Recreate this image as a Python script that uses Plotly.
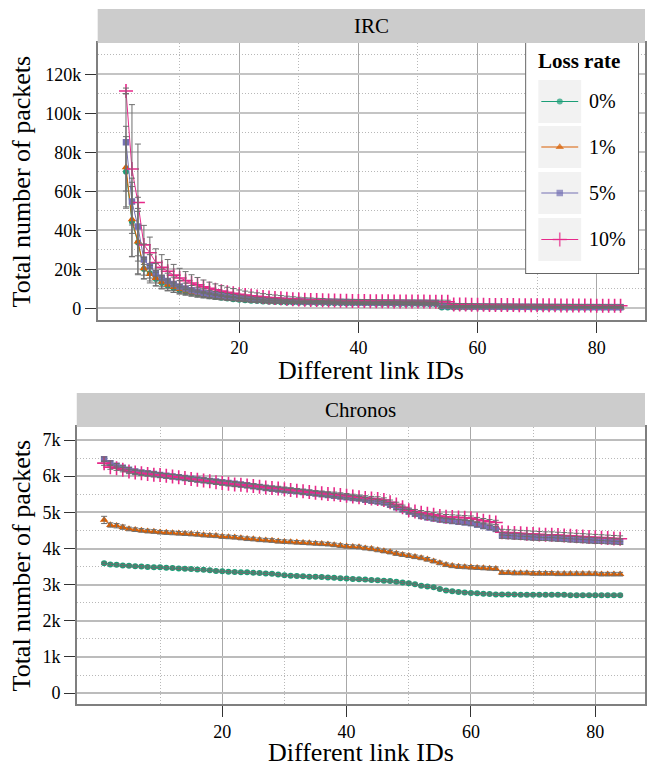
import plotly.graph_objects as go

W, H = 647, 766

# ---------------- data ----------------
link_ids = list(range(1, 85))
loss_rates = ["0%", "1%", "5%", "10%"]
colors = ["#1B9E77", "#D95F02", "#7570B3", "#E7298A"]
symbols = ["circle", "triangle-up", "square", "cross-thin"]

# IRC: total number of packets (thousands)
irc_0 = [70.0, 44.4, 33.7, 20.2, 18.0, 15.0, 13.0, 11.5, 10.3, 9.3, 8.5, 7.8, 7.2, 6.7, 6.2, 5.8, 5.4, 5.0, 4.7, 4.4,
         4.1, 3.9, 3.7, 3.5, 3.3, 3.2, 3.1, 3.0, 2.95, 2.9, 2.85, 2.8, 2.75, 2.7, 2.65, 2.6, 2.55, 2.5, 2.5, 2.45,
         2.4, 2.4, 2.35, 2.3, 2.3, 2.25, 2.25, 2.2, 2.2, 2.15, 2.15, 2.1, 2.1, 0.45, 0.45, 0.42, 0.42, 0.4, 0.4, 0.4,
         0.38, 0.38, 0.38, 0.36, 0.36, 0.36, 0.35, 0.35, 0.35, 0.34, 0.34, 0.33, 0.33, 0.33, 0.32, 0.32, 0.32, 0.31,
         0.31, 0.31, 0.3, 0.3, 0.3, 0.3]
irc_1 = [72.3, 45.6, 34.2, 20.5, 17.5, 15.5, 13.5, 12.0, 10.8, 9.8, 9.0, 8.2, 7.6, 7.0, 6.5, 6.1, 5.7, 5.3, 5.0, 4.7,
         4.4, 4.2, 4.0, 3.8, 3.6, 3.5, 3.4, 3.3, 3.2, 3.15, 3.1, 3.05, 3.0, 2.95, 2.9, 2.85, 2.8, 2.75, 2.7, 2.7,
         2.65, 2.6, 2.6, 2.55, 2.5, 2.5, 2.45, 2.45, 2.4, 2.4, 2.35, 2.35, 2.3, 0.55, 0.55, 0.52, 0.5, 0.5, 0.48, 0.48,
         0.46, 0.46, 0.45, 0.45, 0.44, 0.44, 0.43, 0.43, 0.42, 0.42, 0.41, 0.41, 0.4, 0.4, 0.4, 0.39, 0.39, 0.38,
         0.38, 0.38, 0.37, 0.37, 0.36, 0.36]
irc_5 = [85.1, 54.7, 41.9, 25.0, 21.5, 18.0, 15.5, 14.0, 12.5, 11.2, 10.2, 9.3, 8.6, 8.0, 7.4, 6.9, 6.5, 6.1, 5.7, 5.4,
         5.1, 4.8, 4.6, 4.4, 4.2, 4.05, 3.9, 3.8, 3.7, 3.6, 3.5, 3.45, 3.4, 3.35, 3.3, 3.25, 3.2, 3.15, 3.1, 3.05,
         3.0, 3.0, 2.95, 2.9, 2.9, 2.85, 2.85, 2.8, 2.8, 2.75, 2.75, 2.7, 2.7, 1.2, 1.15, 1.1, 1.05, 1.0, 0.98, 0.95,
         0.92, 0.9, 0.88, 0.86, 0.84, 0.82, 0.8, 0.78, 0.76, 0.75, 0.74, 0.72, 0.71, 0.7, 0.69, 0.68, 0.67, 0.66,
         0.65, 0.64, 0.63, 0.62, 0.61, 0.6]
irc_10 = [111.4, 71.4, 54.2, 32.5, 28.5, 23.5, 21.0, 19.0, 17.0, 15.5, 14.2, 13.0, 12.0, 11.0, 10.2, 9.5, 8.8, 8.2, 7.7,
          7.2, 6.8, 6.4, 6.1, 5.8, 5.5, 5.3, 5.1, 4.9, 4.7, 4.55, 4.4, 4.3, 4.2, 4.1, 4.0, 3.95, 3.9, 3.85, 3.8, 3.75,
          3.7, 3.65, 3.6, 3.58, 3.55, 3.52, 3.5, 3.48, 3.46, 3.44, 3.42, 3.4, 3.38, 3.36, 3.34, 2.0, 1.95, 1.9, 1.85,
          1.8, 1.78, 1.75, 1.72, 1.7, 1.68, 1.65, 1.62, 1.6, 1.58, 1.56, 1.54, 1.52, 1.5, 1.48, 1.46, 1.44, 1.42, 1.4,
          1.38, 1.36, 1.34, 1.32, 1.3, 1.28]

irc_err_0 = [18, 18, 16, 5, 4, 3.5, 3, 2.5, 2.2, 2.0, 1.8, 1.6, 1.5, 1.4, 1.3, 1.2, 1.1, 1.0, 0.9, 0.9,
             0.8, 0.8, 0.7, 0.7, 0.6, 0.6, 0.6, 0.55, 0.55, 0.5, 0.5, 0.5, 0.5, 0.5, 0.5, 0.5, 0.5, 0.5, 0.5, 0.5,
             0.5, 0.5, 0.5, 0.5, 0.5, 0.5, 0.5, 0.5, 0.5, 0.5, 0.5, 0.5, 0.5, 0.2, 0.2, 0.2, 0.2, 0.2, 0.2, 0.2,
             0.2, 0.2, 0.2, 0.2, 0.2, 0.2, 0.2, 0.2, 0.2, 0.2, 0.2, 0.2, 0.2, 0.2, 0.2, 0.2, 0.2, 0.2, 0.2, 0.2,
             0.2, 0.2, 0.2, 0.2]
irc_err_1 = [21, 19, 17, 5.5, 4.5, 4, 3.5, 3, 2.6, 2.3, 2.0, 1.8, 1.7, 1.5, 1.4, 1.3, 1.2, 1.1, 1.0, 1.0,
             0.9, 0.9, 0.8, 0.8, 0.7, 0.7, 0.65, 0.6, 0.6, 0.55, 0.55, 0.5, 0.5, 0.5, 0.5, 0.5, 0.5, 0.5, 0.5, 0.5,
             0.5, 0.5, 0.5, 0.5, 0.5, 0.5, 0.5, 0.5, 0.5, 0.5, 0.5, 0.5, 0.5, 0.25, 0.25, 0.25, 0.25, 0.25, 0.25, 0.25,
             0.25, 0.25, 0.25, 0.25, 0.25, 0.25, 0.25, 0.25, 0.25, 0.25, 0.25, 0.25, 0.25, 0.25, 0.25, 0.25, 0.25,
             0.25, 0.25, 0.25, 0.25, 0.25, 0.25, 0.25]
irc_err_5 = [25, 12, 15, 8, 6, 5, 4.5, 4, 3.5, 3.0, 2.7, 2.4, 2.2, 2.0, 1.8, 1.7, 1.6, 1.5, 1.4, 1.3,
             1.2, 1.1, 1.0, 1.0, 0.9, 0.85, 0.8, 0.75, 0.7, 0.7, 0.65, 0.65, 0.6, 0.6, 0.6, 0.6, 0.6, 0.6, 0.6, 0.6,
             0.6, 0.6, 0.6, 0.6, 0.6, 0.6, 0.6, 0.6, 0.6, 0.6, 0.6, 0.6, 0.6, 0.35, 0.35, 0.35, 0.35, 0.35, 0.35, 0.35,
             0.35, 0.35, 0.35, 0.35, 0.35, 0.35, 0.35, 0.35, 0.35, 0.35, 0.35, 0.35, 0.35, 0.35, 0.35, 0.35, 0.35,
             0.35, 0.35, 0.35, 0.35, 0.35, 0.35, 0.35]
irc_err_10 = [1.5, 33, 30, 10, 8, 7, 6.5, 6, 5.5, 5, 4.6, 4.2, 3.8, 3.5, 3.2, 3.0, 2.8, 2.6, 2.4, 2.2,
              2.0, 1.9, 1.8, 1.7, 1.6, 1.5, 1.4, 1.3, 1.2, 1.1, 1.0, 1.0, 0.9, 0.9, 0.8, 0.8, 0.8, 0.8, 0.8, 0.8,
              0.8, 0.8, 0.8, 0.8, 0.8, 0.8, 0.8, 0.8, 0.8, 0.8, 0.8, 0.8, 0.8, 0.8, 0.8, 0.5, 0.5, 0.5, 0.5, 0.5,
              0.5, 0.5, 0.5, 0.5, 0.5, 0.5, 0.5, 0.5, 0.5, 0.5, 0.5, 0.5, 0.5, 0.5, 0.5, 0.5, 0.5, 0.5, 0.5, 0.5,
              0.5, 0.5, 0.5, 0.5]

# Chronos: total number of packets (thousands)
chr_0 = [3.59, 3.56, 3.55, 3.53, 3.52, 3.51, 3.50, 3.49, 3.48, 3.48, 3.47, 3.46, 3.45, 3.44, 3.43, 3.42, 3.41, 3.40,
         3.38, 3.37, 3.36, 3.35, 3.34, 3.34, 3.33, 3.32, 3.31, 3.30, 3.28, 3.26, 3.25, 3.24, 3.23, 3.22, 3.22, 3.21,
         3.20, 3.19, 3.18, 3.17, 3.16, 3.15, 3.14, 3.13, 3.12, 3.11, 3.10, 3.08, 3.06, 3.04, 3.01, 2.97, 2.95, 2.93,
         2.88, 2.84, 2.82, 2.80, 2.78, 2.77, 2.76, 2.75, 2.74, 2.73, 2.73, 2.73, 2.73, 2.72, 2.72, 2.72, 2.72, 2.72,
         2.72, 2.72, 2.72, 2.71, 2.71, 2.71, 2.71, 2.71, 2.71, 2.71, 2.71, 2.71]
chr_1 = [4.79, 4.65, 4.63, 4.59, 4.54, 4.52, 4.50, 4.48, 4.47, 4.45, 4.44, 4.43, 4.42, 4.41, 4.40, 4.39, 4.37, 4.36,
         4.35, 4.33, 4.32, 4.31, 4.29, 4.27, 4.26, 4.24, 4.23, 4.22, 4.20, 4.19, 4.18, 4.17, 4.16, 4.15, 4.14, 4.13,
         4.12, 4.10, 4.08, 4.06, 4.05, 4.04, 4.01, 3.99, 3.96, 3.93, 3.90, 3.86, 3.83, 3.80, 3.77, 3.74, 3.70, 3.65,
         3.60, 3.55, 3.52, 3.50, 3.49, 3.48, 3.47, 3.46, 3.45, 3.44, 3.33, 3.33, 3.32, 3.32, 3.32, 3.31, 3.31, 3.31,
         3.31, 3.30, 3.30, 3.30, 3.30, 3.30, 3.30, 3.30, 3.29, 3.29, 3.29, 3.29]
chr_5 = [6.47, 6.36, 6.29, 6.23, 6.18, 6.13, 6.10, 6.08, 6.06, 6.03, 6.01, 5.99, 5.97, 5.95, 5.93, 5.91, 5.89, 5.87,
         5.85, 5.83, 5.81, 5.79, 5.77, 5.75, 5.72, 5.70, 5.67, 5.65, 5.63, 5.61, 5.60, 5.58, 5.56, 5.54, 5.52, 5.50,
         5.48, 5.46, 5.44, 5.42, 5.40, 5.38, 5.35, 5.32, 5.30, 5.27, 5.21, 5.14, 5.08, 5.02, 4.96, 4.90, 4.86, 4.83,
         4.80, 4.78, 4.76, 4.74, 4.72, 4.70, 4.66, 4.62, 4.58, 4.54, 4.36, 4.35, 4.34, 4.33, 4.32, 4.31, 4.30, 4.30,
         4.29, 4.28, 4.27, 4.26, 4.25, 4.24, 4.23, 4.22, 4.22, 4.21, 4.20, 4.19]
chr_10 = [6.36, 6.25, 6.22, 6.18, 6.13, 6.10, 6.08, 6.06, 6.04, 6.03, 6.01, 5.99, 5.97, 5.95, 5.92, 5.90, 5.88, 5.86,
          5.83, 5.81, 5.79, 5.77, 5.76, 5.74, 5.73, 5.71, 5.69, 5.67, 5.66, 5.64, 5.62, 5.60, 5.58, 5.56, 5.54, 5.53,
          5.51, 5.50, 5.48, 5.46, 5.44, 5.42, 5.40, 5.38, 5.37, 5.34, 5.28, 5.22, 5.14, 5.06, 5.02, 4.99, 4.96, 4.93,
          4.90, 4.88, 4.87, 4.86, 4.85, 4.84, 4.80, 4.77, 4.74, 4.72, 4.45, 4.44, 4.43, 4.42, 4.41, 4.40, 4.39, 4.38,
          4.38, 4.37, 4.36, 4.35, 4.34, 4.33, 4.32, 4.31, 4.30, 4.29, 4.28, 4.27]

chr_err_0 = [0.03, 0.03, 0.03, 0.03, 0.03, 0.03, 0.03, 0.03, 0.03, 0.03, 0.03, 0.03, 0.03, 0.03, 0.03, 0.03, 0.03,
             0.03, 0.03, 0.03, 0.03, 0.03, 0.03, 0.03, 0.03, 0.03, 0.03, 0.03, 0.03, 0.03, 0.03, 0.03, 0.03, 0.03,
             0.03, 0.03, 0.03, 0.03, 0.03, 0.03, 0.03, 0.03, 0.03, 0.03, 0.03, 0.03, 0.03, 0.03, 0.03, 0.03, 0.03,
             0.03, 0.03, 0.03, 0.03, 0.03, 0.03, 0.03, 0.03, 0.03, 0.03, 0.03, 0.03, 0.03, 0.03, 0.03, 0.03, 0.03,
             0.03, 0.03, 0.03, 0.03, 0.03, 0.03, 0.03, 0.03, 0.03, 0.03, 0.03, 0.03, 0.03, 0.03, 0.03, 0.03]
chr_err_1 = [0.10, 0.06, 0.06, 0.06, 0.05, 0.05, 0.05, 0.05, 0.05, 0.05, 0.05, 0.05, 0.05, 0.05, 0.05, 0.05, 0.05,
             0.05, 0.05, 0.05, 0.05, 0.05, 0.05, 0.05, 0.05, 0.05, 0.05, 0.05, 0.05, 0.05, 0.05, 0.05, 0.05, 0.05,
             0.05, 0.05, 0.05, 0.05, 0.05, 0.05, 0.05, 0.05, 0.05, 0.05, 0.05, 0.05, 0.05, 0.05, 0.05, 0.05, 0.05,
             0.05, 0.05, 0.05, 0.05, 0.05, 0.05, 0.05, 0.05, 0.05, 0.05, 0.05, 0.05, 0.05, 0.05, 0.05, 0.05, 0.05,
             0.05, 0.05, 0.05, 0.05, 0.05, 0.05, 0.05, 0.05, 0.05, 0.05, 0.05, 0.05, 0.05, 0.05, 0.05, 0.05]
chr_err_5 = [0.06, 0.06, 0.06, 0.06, 0.06, 0.06, 0.06, 0.06, 0.06, 0.06, 0.06, 0.06, 0.06, 0.06, 0.06, 0.06, 0.06,
             0.06, 0.06, 0.06, 0.06, 0.06, 0.06, 0.06, 0.06, 0.06, 0.06, 0.06, 0.06, 0.06, 0.06, 0.06, 0.06, 0.06,
             0.06, 0.06, 0.06, 0.06, 0.06, 0.06, 0.06, 0.06, 0.06, 0.06, 0.06, 0.06, 0.06, 0.06, 0.06, 0.06, 0.06,
             0.06, 0.06, 0.06, 0.06, 0.06, 0.06, 0.06, 0.06, 0.06, 0.06, 0.06, 0.06, 0.06, 0.08, 0.08, 0.08, 0.08,
             0.08, 0.08, 0.08, 0.08, 0.08, 0.08, 0.08, 0.08, 0.08, 0.08, 0.08, 0.08, 0.08, 0.08, 0.08, 0.08]
chr_err_10 = [0.06, 0.06, 0.06, 0.06, 0.06, 0.06, 0.06, 0.06, 0.06, 0.06, 0.06, 0.06, 0.06, 0.06, 0.06, 0.06, 0.06,
              0.06, 0.06, 0.06, 0.06, 0.06, 0.06, 0.06, 0.06, 0.06, 0.06, 0.06, 0.06, 0.06, 0.06, 0.06, 0.06, 0.06,
              0.06, 0.06, 0.06, 0.06, 0.06, 0.06, 0.06, 0.06, 0.06, 0.06, 0.06, 0.06, 0.06, 0.06, 0.06, 0.06, 0.06,
              0.06, 0.06, 0.06, 0.06, 0.06, 0.06, 0.06, 0.06, 0.06, 0.06, 0.06, 0.06, 0.06, 0.08, 0.08, 0.08, 0.08,
              0.08, 0.08, 0.08, 0.08, 0.08, 0.08, 0.08, 0.08, 0.08, 0.08, 0.08, 0.08, 0.08, 0.08, 0.08, 0.08]

irc_ticks = [0, 20, 40, 60, 80, 100, 120]
irc_ticktext = ["0", "20k", "40k", "60k", "80k", "100k", "120k"]
irc_minor = [10, 30, 50, 70, 90, 110, 130]
chr_ticks = [0, 1, 2, 3, 4, 5, 6, 7]
chr_ticktext = ["0", "1k", "2k", "3k", "4k", "5k", "6k", "7k"]
chr_minor = [0.5, 1.5, 2.5, 3.5, 4.5, 5.5, 6.5]
x_ticks = [20, 40, 60, 80]
x_minor = [10, 30, 50, 70]

irc_vals = [irc_0, irc_1, irc_5, irc_10]
irc_errs = [irc_err_0, irc_err_1, irc_err_5, irc_err_10]
chr_vals = [chr_0, chr_1, chr_5, chr_10]
chr_errs = [chr_err_0, chr_err_1, chr_err_5, chr_err_10]
for arr in irc_vals + irc_errs + chr_vals + chr_errs:
    assert len(arr) == len(link_ids), len(arr)

# ---------------- styling ----------------
FONT = "Liberation Serif, Times New Roman, serif"
msize = [6, 7.5, 6.5, 10]
mline = [0, 0, 0, 1.6]
ERR_COLOR = "#6e6e6e"
DOTS = "1px,2px"


def px_x(p):
    return p / W


def px_y(p):
    return 1 - p / H


fig = go.Figure()

panels = [("x", "y", irc_vals, irc_errs), ("x2", "y2", chr_vals, chr_errs)]
for xa, ya, vals, errs in panels:
    for i in range(len(loss_rates)):
        fig.add_trace(go.Scatter(
            x=link_ids, y=vals[i], xaxis=xa, yaxis=ya, mode="lines+markers",
            name=loss_rates[i], showlegend=False, hoverinfo="skip",
            line=dict(color=colors[i], width=1),
            marker=dict(symbol=symbols[i], size=msize[i], color=colors[i],
                        line=dict(width=mline[i], color=colors[i])),
        ))
    for i in range(len(loss_rates)):
        fig.add_trace(go.Scatter(
            x=link_ids, y=vals[i], xaxis=xa, yaxis=ya, mode="markers",
            showlegend=False, hoverinfo="skip",
            marker=dict(size=2, opacity=0, color=ERR_COLOR),
            error_y=dict(type="data", array=errs[i], color=ERR_COLOR, thickness=1, width=3),
        ))

# ---------------- legend (drawn in its own small axis, in pixel units) ----------------
leg_left, leg_top, leg_right, leg_bottom = 527, 41, 641, 274
key_x0, key_x1 = 540, 583
key_rows = [(80, 123), (126, 168), (172, 214), (218, 261)]
n = len(loss_rates)
for i, (r0, r1) in enumerate(key_rows):
    yc = (r0 + r1) / 2
    fig.add_trace(go.Scatter(
        x=[key_x0 + 3, (key_x0 + key_x1) / 2, key_x1 - 3], y=[yc, yc, yc], xaxis="x3", yaxis="y3",
        mode="lines+markers", showlegend=False, hoverinfo="skip",
        line=dict(color=colors[i], width=1),
        marker=dict(symbol=symbols[i], size=[0, msize[i], 0], color=colors[i],
                    line=dict(width=mline[i], color=colors[i])),
    ))

shapes = []
annotations = []
shapes.append(dict(type="rect", xref="x3", yref="y3", x0=leg_left, x1=leg_right, y0=leg_bottom, y1=leg_top,
                   fillcolor="white", line=dict(color="#333333", width=1.5), layer="below"))
for (r0, r1) in key_rows:
    shapes.append(dict(type="rect", xref="x3", yref="y3", x0=key_x0, x1=key_x1, y0=r1, y1=r0,
                       fillcolor="#f2f2f2", line=dict(width=0), layer="below"))
annotations.append(dict(text="<b>Loss rate</b>", xref="paper", yref="paper", x=px_x(538), y=px_y(61),
                        xanchor="left", yanchor="middle", showarrow=False,
                        font=dict(family=FONT, size=21, color="black")))
for i, (r0, r1) in enumerate(key_rows):
    annotations.append(dict(text=loss_rates[i], xref="paper", yref="paper", x=px_x(589), y=px_y((r0 + r1) / 2),
                            xanchor="left", yanchor="middle", showarrow=False,
                            font=dict(family=FONT, size=20, color="black")))

# strips
strips = [("IRC", 98, 9, 43), ("Chronos", 77, 393, 427)]
for label, left, t, b in strips:
    shapes.append(dict(type="rect", xref="paper", yref="paper", x0=px_x(left), x1=1.0,
                       y0=px_y(b), y1=px_y(t), fillcolor="#cccccc", line=dict(width=0)))
    annotations.append(dict(text=label, xref="paper", yref="paper", x=px_x((left + W) / 2), y=px_y((t + b) / 2),
                            xanchor="center", yanchor="middle", showarrow=False,
                            font=dict(family=FONT, size=21, color="black")))

# axis titles
for left, top, bot, xtitle_y in [(98, 43, 320, 371), (77, 427, 704, 752)]:
    annotations.append(dict(text="Total number of packets", xref="paper", yref="paper", x=px_x(22),
                            y=px_y((top + bot) / 2), textangle=-90, xanchor="center", yanchor="middle",
                            showarrow=False, font=dict(family=FONT, size=26, color="black")))
    annotations.append(dict(text="Different link IDs", xref="paper", yref="paper", x=px_x((left + W) / 2),
                            y=px_y(xtitle_y), xanchor="center", yanchor="middle",
                            showarrow=False, font=dict(family=FONT, size=26, color="black")))

common_axis = dict(
    showline=True, mirror=True, linecolor="#7f7f7f", linewidth=1.5,
    ticks="outside", ticklen=11, tickwidth=1, tickcolor="#333333",
    tickfont=dict(family=FONT, size=18, color="black"), zeroline=False, showgrid=True,
)

fig.update_layout(
    width=W, height=H, margin=dict(l=0, r=0, t=0, b=0),
    paper_bgcolor="white", plot_bgcolor="white", showlegend=False,
    font=dict(family=FONT, color="black"),
    xaxis=dict(domain=[px_x(98), 1.0], range=[-3.75, 88.1], anchor="y", tickmode="array", tickvals=x_ticks,
               gridcolor="#a8a8a8", gridwidth=1.2,
               minor=dict(tickvals=x_minor, showgrid=True, gridcolor="#b8b8b8", griddash=DOTS, gridwidth=1,
                          ticks=""),
               **common_axis),
    yaxis=dict(domain=[px_y(320), px_y(43)], range=[-6, 136], anchor="x", tickmode="array",
               tickvals=irc_ticks, ticktext=irc_ticktext, gridcolor="#c4c4c4", gridwidth=1.8,
               minor=dict(tickvals=irc_minor, showgrid=True, gridcolor="#b8b8b8", griddash=DOTS, gridwidth=1,
                          ticks=""),
               **common_axis),
    xaxis2=dict(domain=[px_x(77), 1.0], range=[-3.4, 88.0], anchor="y2", tickmode="array", tickvals=x_ticks,
                gridcolor="#a8a8a8", gridwidth=1.2,
                minor=dict(tickvals=x_minor, showgrid=True, gridcolor="#b8b8b8", griddash=DOTS, gridwidth=1,
                           ticks=""),
                **common_axis),
    yaxis2=dict(domain=[px_y(704), px_y(427)], range=[-0.3, 7.36], anchor="x2", tickmode="array",
                tickvals=chr_ticks, ticktext=chr_ticktext, gridcolor="#bcbcbc", gridwidth=1.8,
                minor=dict(tickvals=chr_minor, showgrid=True, gridcolor="#b8b8b8", griddash=DOTS, gridwidth=1,
                           ticks=""),
                **common_axis),
    xaxis3=dict(domain=[px_x(leg_left), px_x(leg_right)], range=[leg_left, leg_right], anchor="y3",
                visible=False, fixedrange=True, showgrid=False, zeroline=False),
    yaxis3=dict(domain=[px_y(leg_bottom), px_y(leg_top)], range=[leg_bottom, leg_top], anchor="x3",
                visible=False, fixedrange=True, showgrid=False, zeroline=False),
    shapes=shapes, annotations=annotations,
)

fig.write_html("out.html")
